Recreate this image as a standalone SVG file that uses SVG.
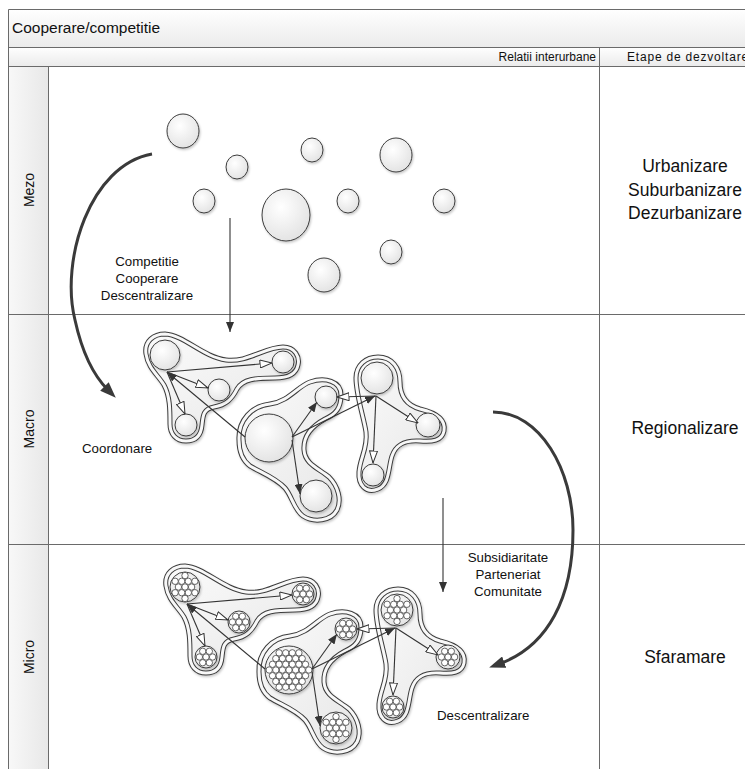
<svg xmlns="http://www.w3.org/2000/svg" xmlns:xlink="http://www.w3.org/1999/xlink" width="745" height="769" viewBox="0 0 745 769">
  <style>
    .frame { fill: none; stroke: #6a6a6a; stroke-width: 1; }
    .node { fill: url(#gNode); stroke: #3c3c3c; stroke-width: 1; filter: url(#shadow); }
    .dot { fill: #ffffff; stroke: #404040; stroke-width: 0.8; }
    .blob-out { fill: url(#gBlob); stroke: #3c3c3c; stroke-width: 5; filter: url(#shadow); }
    .blob-in { fill: none; stroke: #f8f8f8; stroke-width: 3; }
    .link { fill: none; stroke: #333333; stroke-width: 1.1; }
    .open { marker-end: url(#mOpen); }
    .solid { marker-end: url(#mSolid); }
    .flow { fill: none; stroke: #3a3a3a; stroke-width: 3; marker-end: url(#mBig); }
    .down { fill: none; stroke: #333333; stroke-width: 1.1; marker-end: url(#mSolid); }
    text { font-family: "Liberation Sans", Arial, sans-serif; fill: #111111; }
    .title { font-size: 15.5px; }
    .head { font-size: 12px; }
    .lane { font-size: 14px; text-anchor: middle; }
    .stage { font-size: 17.5px; text-anchor: middle; }
    .note { font-size: 13.3px; text-anchor: middle; }
    .note-left { font-size: 13.3px; text-anchor: start; }
  </style>
  <defs>
    <linearGradient id="gHead" x1="0" y1="0" x2="0" y2="1">
      <stop offset="0" stop-color="#ffffff"/>
      <stop offset="1" stop-color="#ebebeb"/>
    </linearGradient>
    <linearGradient id="gLane" x1="0" y1="0" x2="1" y2="0">
      <stop offset="0" stop-color="#f8f8f8"/>
      <stop offset="1" stop-color="#e8e8e8"/>
    </linearGradient>
    <radialGradient id="gNode" cx="0.4" cy="0.35" r="0.7">
      <stop offset="0" stop-color="#ffffff"/>
      <stop offset="1" stop-color="#e2e2e2"/>
    </radialGradient>
    <linearGradient id="gBlob" x1="0" y1="0" x2="1" y2="1">
      <stop offset="0" stop-color="#fbfbfb"/>
      <stop offset="1" stop-color="#e6e6e6"/>
    </linearGradient>
    <filter id="shadow" x="-20%" y="-20%" width="140%" height="140%">
      <feDropShadow dx="1" dy="1.5" stdDeviation="1.2" flood-color="#000000" flood-opacity="0.22"/>
    </filter>

    <marker id="mOpen" viewBox="0 0 13 9" refX="12.5" refY="4.5" markerWidth="13" markerHeight="9" markerUnits="userSpaceOnUse" orient="auto">
      <path d="M0.5,0.5 L12.5,4.5 L0.5,8.5 Z" fill="#ffffff" stroke="#333333" stroke-width="1"/>
    </marker>
    <marker id="mSolid" viewBox="0 0 10 8" refX="10" refY="4" markerWidth="10" markerHeight="8" markerUnits="userSpaceOnUse" orient="auto">
      <path d="M0,0 L10,4 L0,8 Z" fill="#333333"/>
    </marker>
    <marker id="mBig" viewBox="0 0 16 12" refX="5" refY="6" markerWidth="16" markerHeight="12" markerUnits="userSpaceOnUse" orient="auto">
      <path d="M0,0 L16,6 L0,12 Z" fill="#3a3a3a"/>
    </marker>

    <!-- cluster outlines -->
    <path id="blobA" d="M146,354 C144,341 154,334 165,334 C184,335 203,357 226,360 C247,363 265,347 283,347 C295,347 300,357 298,365 C296,375 287,378 275,378 C255,378 243,379 237,389 C232,399 226,405 214,407 C203,409 203,416 202,425 C201,436 195,441 186,441 C176,441 170,434 170,424 C170,410 170,396 164,385 C158,375 148,368 146,354 Z"/>
    <path id="blobB" d="M239,440 C238,420 252,406 270,404 C288,402 298,386 310,382 C325,377 341,381 341,395 C341,408 336,414 325,419 C312,426 303,436 304,450 C305,464 318,468 329,477 C338,486 342,500 337,510 C331,521 314,523 303,516 C294,510 292,496 285,488 C276,478 262,473 250,466 C242,460 239,452 239,440 Z"/>
    <path id="blobC" d="M356,378 C356,365 366,357 378,357 C392,357 400,368 400,382 C400,396 406,405 420,409 C437,413 446,420 444,431 C442,441 432,442 420,441 C405,440 396,444 392,456 C388,468 390,484 378,489 C366,494 358,485 359,472 C360,458 368,448 366,432 C364,418 356,395 356,378 Z"/>

    <!-- packed settlements inside micro-level cities -->
    <g id="p7">
      <circle class="dot" cx="0" cy="0" r="3.2"/>
      <circle class="dot" cx="6.6" cy="0" r="3.2"/>
      <circle class="dot" cx="3.3" cy="5.72" r="3.2"/>
      <circle class="dot" cx="-3.3" cy="5.72" r="3.2"/>
      <circle class="dot" cx="-6.6" cy="0" r="3.2"/>
      <circle class="dot" cx="-3.3" cy="-5.72" r="3.2"/>
      <circle class="dot" cx="3.3" cy="-5.72" r="3.2"/>
    </g>
    <g id="p13">
      <use href="#p7"/>
      <circle class="dot" cx="9.9" cy="5.72" r="3.2"/>
      <circle class="dot" cx="0" cy="11.43" r="3.2"/>
      <circle class="dot" cx="-9.9" cy="5.72" r="3.2"/>
      <circle class="dot" cx="-9.9" cy="-5.72" r="3.2"/>
      <circle class="dot" cx="0" cy="-11.43" r="3.2"/>
      <circle class="dot" cx="9.9" cy="-5.72" r="3.2"/>
    </g>
    <g id="p37">
      <use href="#p13"/>
      <circle class="dot" cx="13.2" cy="0" r="3.2"/>
      <circle class="dot" cx="6.6" cy="11.43" r="3.2"/>
      <circle class="dot" cx="-6.6" cy="11.43" r="3.2"/>
      <circle class="dot" cx="-13.2" cy="0" r="3.2"/>
      <circle class="dot" cx="-6.6" cy="-11.43" r="3.2"/>
      <circle class="dot" cx="6.6" cy="-11.43" r="3.2"/>
      <circle class="dot" cx="16.5" cy="5.72" r="3.2"/>
      <circle class="dot" cx="13.2" cy="11.43" r="3.2"/>
      <circle class="dot" cx="3.3" cy="17.15" r="3.2"/>
      <circle class="dot" cx="-3.3" cy="17.15" r="3.2"/>
      <circle class="dot" cx="-13.2" cy="11.43" r="3.2"/>
      <circle class="dot" cx="-16.5" cy="5.72" r="3.2"/>
      <circle class="dot" cx="-16.5" cy="-5.72" r="3.2"/>
      <circle class="dot" cx="-13.2" cy="-11.43" r="3.2"/>
      <circle class="dot" cx="-3.3" cy="-17.15" r="3.2"/>
      <circle class="dot" cx="3.3" cy="-17.15" r="3.2"/>
      <circle class="dot" cx="13.2" cy="-11.43" r="3.2"/>
      <circle class="dot" cx="16.5" cy="-5.72" r="3.2"/>
      <circle class="dot" cx="19.8" cy="0" r="3.2"/>
      <circle class="dot" cx="9.9" cy="17.15" r="3.2"/>
      <circle class="dot" cx="-9.9" cy="17.15" r="3.2"/>
      <circle class="dot" cx="-19.8" cy="0" r="3.2"/>
      <circle class="dot" cx="-9.9" cy="-17.15" r="3.2"/>
      <circle class="dot" cx="9.9" cy="-17.15" r="3.2"/>
    </g>
  </defs>

  <rect x="0" y="0" width="745" height="769" fill="#ffffff"/>

  <!-- swimlane frame -->
  <g id="frame">
    <rect x="8" y="9" width="760" height="38" fill="url(#gHead)"/>
    <rect x="8" y="47" width="760" height="19" fill="url(#gHead)"/>
    <rect x="8" y="66" width="40" height="248" fill="url(#gLane)"/>
    <rect x="8" y="314" width="40" height="230" fill="url(#gLane)"/>
    <rect x="8" y="544" width="40" height="230" fill="url(#gLane)"/>
    <path class="frame" d="M8.5,780 V9.5 H760 M8,47.5 H760 M8,66.5 H760 M8,314.5 H760 M8,544.5 H760 M48.5,66 V780 M599.5,47 V780"/>
    <text class="title" x="12" y="33">Cooperare/competitie</text>
    <text class="head" x="596" y="61" text-anchor="end">Relatii interurbane</text>
    <text class="head" x="627" y="61" letter-spacing="0.8">Etape de dezvoltare</text>
    <text class="lane" transform="translate(34,190) rotate(-90)">Mezo</text>
    <text class="lane" transform="translate(34,429) rotate(-90)">Macro</text>
    <text class="lane" transform="translate(34,657) rotate(-90)">Micro</text>
    <text class="stage" x="685" y="172">Urbanizare</text>
    <text class="stage" x="685" y="196">Suburbanizare</text>
    <text class="stage" x="685" y="219">Dezurbanizare</text>
    <text class="stage" x="685" y="434">Regionalizare</text>
    <text class="stage" x="685" y="663">Sfaramare</text>
  </g>

  <!-- mezo level: scattered cities -->
  <g id="mezo-1"><ellipse class="node" cx="183" cy="131" rx="16" ry="17"/></g>
  <g id="mezo-2"><ellipse class="node" cx="237" cy="167" rx="11" ry="12"/></g>
  <g id="mezo-3"><ellipse class="node" cx="312" cy="150" rx="11" ry="12"/></g>
  <g id="mezo-4"><ellipse class="node" cx="396" cy="155" rx="16" ry="17"/></g>
  <g id="mezo-5"><ellipse class="node" cx="204" cy="201" rx="11" ry="12"/></g>
  <g id="mezo-6"><ellipse class="node" cx="286" cy="215" rx="24" ry="26"/></g>
  <g id="mezo-7"><ellipse class="node" cx="348" cy="201" rx="11" ry="12"/></g>
  <g id="mezo-8"><ellipse class="node" cx="444" cy="201" rx="11" ry="12"/></g>
  <g id="mezo-9"><ellipse class="node" cx="391" cy="252" rx="11" ry="12"/></g>
  <g id="mezo-10"><ellipse class="node" cx="324" cy="275" rx="16" ry="17"/></g>

  <!-- macro level: three regional clusters -->
  <g id="macro-cluster-a">
    <use href="#blobA" class="blob-out"/>
    <use href="#blobA" class="blob-in"/>
    <circle class="node" cx="165" cy="355" r="15"/>
    <circle class="node" cx="283" cy="362" r="11"/>
    <circle class="node" cx="219" cy="390" r="11"/>
    <circle class="node" cx="186" cy="425" r="11"/>
  </g>
  <g id="macro-cluster-b">
    <use href="#blobB" class="blob-out"/>
    <use href="#blobB" class="blob-in"/>
    <circle class="node" cx="269" cy="438" r="24"/>
    <circle class="node" cx="326" cy="397" r="11"/>
    <circle class="node" cx="316" cy="496" r="16"/>
  </g>
  <g id="macro-cluster-c">
    <use href="#blobC" class="blob-out"/>
    <use href="#blobC" class="blob-in"/>
    <circle class="node" cx="377" cy="378" r="16"/>
    <circle class="node" cx="428" cy="425" r="12"/>
    <circle class="node" cx="373" cy="475" r="11"/>
  </g>

  <!-- micro level: same clusters, each city made of settlements -->
  <g id="micro-cluster-a" transform="translate(20,232)">
    <use href="#blobA" class="blob-out"/>
    <use href="#blobA" class="blob-in"/>
    <circle class="node" cx="165" cy="355" r="15"/><use href="#p13" x="165" y="355"/>
    <circle class="node" cx="283" cy="362" r="11"/><use href="#p7" x="283" y="362"/>
    <circle class="node" cx="219" cy="390" r="11"/><use href="#p7" x="219" y="390"/>
    <circle class="node" cx="186" cy="425" r="11"/><use href="#p7" x="186" y="425"/>
  </g>
  <g id="micro-cluster-b" transform="translate(20,232)">
    <use href="#blobB" class="blob-out"/>
    <use href="#blobB" class="blob-in"/>
    <circle class="node" cx="269" cy="438" r="24"/><use href="#p37" x="269" y="438"/>
    <circle class="node" cx="326" cy="397" r="11"/><use href="#p7" x="326" y="397"/>
    <circle class="node" cx="316" cy="496" r="16"/><use href="#p13" x="316" y="496"/>
  </g>
  <g id="micro-cluster-c" transform="translate(20,232)">
    <use href="#blobC" class="blob-out"/>
    <use href="#blobC" class="blob-in"/>
    <circle class="node" cx="377" cy="378" r="16"/><use href="#p13" x="377" y="378"/>
    <circle class="node" cx="428" cy="425" r="12"/><use href="#p7" x="428" y="425"/>
    <circle class="node" cx="373" cy="475" r="11"/><use href="#p7" x="373" y="475"/>
  </g>

  <!-- connectors -->
  <g id="connectors">
    <g id="macro-links">
      <path class="link open" d="M167,372 L272,363"/>
      <path class="link open" d="M167,372 L208,388"/>
      <path class="link open" d="M167,372 L185,414"/>
      <path class="link solid" d="M245,437 L167,372"/>
      <path class="link solid" d="M292,437 L317,402"/>
      <path class="link solid" d="M292,437 L375,396"/>
      <path class="link solid" d="M292,440 L300,494"/>
      <path class="link open" d="M376,396 L337,397"/>
      <path class="link open" d="M376,396 L418,423"/>
      <path class="link open" d="M376,396 L373,463"/>
    </g>
    <g id="micro-links" transform="translate(20,232)">
      <path class="link open" d="M167,372 L272,363"/>
      <path class="link open" d="M167,372 L208,388"/>
      <path class="link open" d="M167,372 L185,414"/>
      <path class="link solid" d="M245,437 L167,372"/>
      <path class="link solid" d="M292,437 L317,402"/>
      <path class="link solid" d="M292,437 L375,396"/>
      <path class="link solid" d="M292,440 L300,494"/>
      <path class="link open" d="M376,396 L337,397"/>
      <path class="link open" d="M376,396 L418,423"/>
      <path class="link open" d="M376,396 L373,463"/>
    </g>
    <path class="down" d="M230,218 V332"/>
    <path class="down" d="M443,498 V592"/>
    <path class="flow" d="M152,154 C90,165 60,260 75,320 C82,352 92,374 108,390"/>
    <path class="flow" d="M493,412 C540,412 573,470 573,530 C573,598 548,646 499.5,663.8"/>
  </g>

  <!-- relation labels -->
  <g id="labels">
    <text class="note" x="147" y="266">Competitie</text>
    <text class="note" x="147" y="283">Cooperare</text>
    <text class="note" x="147" y="300">Descentralizare</text>
    <text class="note" x="508" y="562">Subsidiaritate</text>
    <text class="note" x="508" y="579">Parteneriat</text>
    <text class="note" x="508" y="596">Comunitate</text>
    <text class="note-left" x="82" y="453">Coordonare</text>
    <text class="note-left" x="437" y="720">Descentralizare</text>
  </g>
</svg>
